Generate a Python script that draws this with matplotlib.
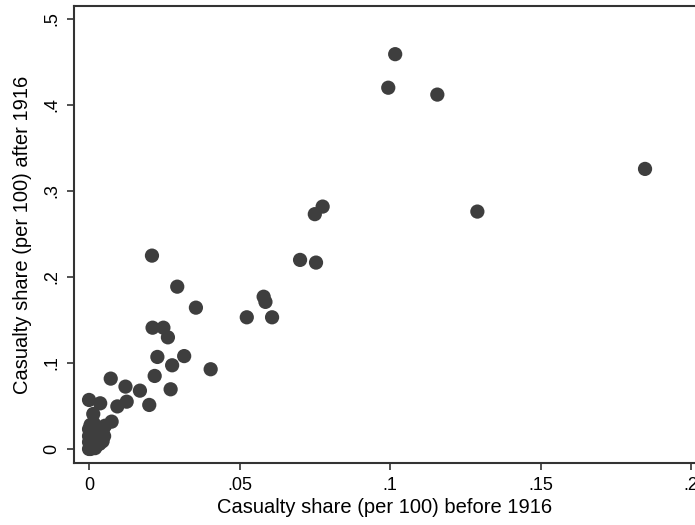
import matplotlib
matplotlib.use('Agg')
import matplotlib.pyplot as plt

# casualty shares (per 100), before vs after 1916
before = [0.0994, 0.1017, 0.1157, 0.1847, 0.1290,
          0.0776, 0.0750, 0.0701, 0.0754,
          0.0209, 0.0293, 0.0355, 0.0580, 0.0586, 0.0524, 0.0608,
          0.0211, 0.0247, 0.0262, 0.0227, 0.0316, 0.0276, 0.0404,
          0.0218, 0.0072, 0.0121, 0.0169, 0.0271,
          0.0000, 0.0037, 0.0125, 0.0094, 0.0200,
          0.0014, 0.0075,
          0.0000, 0.0005, 0.0010, 0.0000, 0.0008, 0.0000, 0.0015, 0.0020,
          0.0025, 0.0030, 0.0035, 0.0040, 0.0050, 0.0045, 0.0030, 0.0020,
          0.0010, 0.0000, 0.0005, 0.0015, 0.0025, 0.0053, 0.0005, 0.0020,
          0.0010, 0.0035, 0.0045]
after = [0.420, 0.459, 0.412, 0.3256, 0.276,
         0.2818, 0.273, 0.2198, 0.2167,
         0.2248, 0.1887, 0.1643, 0.177, 0.171, 0.1531, 0.1531,
         0.141, 0.141, 0.1298, 0.107, 0.108, 0.0973, 0.0927,
         0.0849, 0.0818, 0.0725, 0.0678, 0.0694,
         0.057, 0.0531, 0.055, 0.0495, 0.0512,
         0.0407, 0.0318,
         0.000, 0.002, 0.005, 0.008, 0.011, 0.015, 0.013, 0.008,
         0.004, 0.010, 0.014, 0.012, 0.015, 0.020, 0.022, 0.025,
         0.020, 0.023, 0.028, 0.030, 0.017, 0.027, 0.000, 0.001,
         0.004, 0.006, 0.009]

xticks = [0, 0.05, 0.1, 0.15, 0.2]
xtick_labels = ['0', '.05', '.1', '.15', '.2']
yticks = [0, 0.1, 0.2, 0.3, 0.4, 0.5]
ytick_labels = ['0', '.1', '.2', '.3', '.4', '.5']

plt.rcParams['font.family'] = ['Liberation Sans', 'DejaVu Sans']

fig = plt.figure(figsize=(6.95, 5.25), dpi=100)
ax = fig.add_axes([74 / 695, 62 / 525, 1 - 74 / 695, (463 - 6) / 525])

ax.scatter(before, after, s=105, color='#3e3e3e', edgecolors='none', zorder=3)

ax.set_xlim(-0.005, 0.2013)
ax.set_ylim(-0.0163, 0.515)

ax.set_xticks(xticks)
ax.set_xticklabels(xtick_labels)
ax.set_yticks(yticks)
ax.set_yticklabels(ytick_labels, rotation=90, va='center')

ax.tick_params(direction='out', length=5, width=1.2, color='#333333',
               labelsize=13, pad=5)
for side in ['left', 'bottom', 'top']:
    ax.spines[side].set_linewidth(1.5)
    ax.spines[side].set_color('#333333')
ax.spines['right'].set_visible(False)

ax.set_xlabel('Casualty share (per 100) before 1916', fontsize=14.5, labelpad=3)
ax.set_ylabel('Casualty share (per 100) after 1916', fontsize=14.5, labelpad=8)

fig.savefig('out.png', dpi=100)
plt.close(fig)
